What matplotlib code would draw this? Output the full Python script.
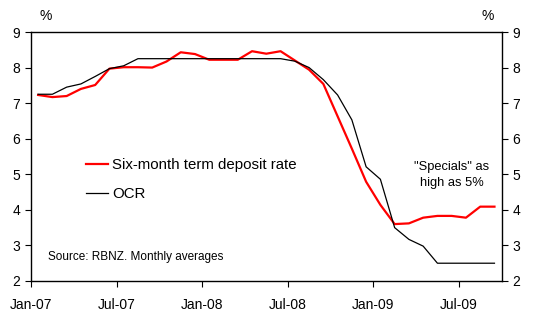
import matplotlib
matplotlib.use("Agg")
import matplotlib.pyplot as plt

plt.rcParams['font.family'] = ['Liberation Sans', 'DejaVu Sans']

months = ["Jan-07","Feb-07","Mar-07","Apr-07","May-07","Jun-07","Jul-07","Aug-07","Sep-07","Oct-07","Nov-07","Dec-07",
          "Jan-08","Feb-08","Mar-08","Apr-08","May-08","Jun-08","Jul-08","Aug-08","Sep-08","Oct-08","Nov-08","Dec-08",
          "Jan-09","Feb-09","Mar-09","Apr-09","May-09","Jun-09","Jul-09","Aug-09","Sep-09"]
term_deposit = [7.23, 7.17, 7.20, 7.40, 7.51, 7.97, 8.01, 8.01, 8.00, 8.17, 8.43, 8.38,
                8.22, 8.22, 8.22, 8.46, 8.39, 8.46, 8.20, 7.94, 7.54, 6.63, 5.72, 4.79,
                4.14, 3.60, 3.62, 3.78, 3.83, 3.83, 3.78, 4.09, 4.09]
ocr = [7.25, 7.25, 7.45, 7.54, 7.75, 7.97, 8.05, 8.25, 8.25, 8.25, 8.25, 8.25,
       8.25, 8.25, 8.25, 8.25, 8.25, 8.25, 8.18, 8.00, 7.66, 7.23, 6.53, 5.21,
       4.86, 3.50, 3.17, 2.98, 2.50, 2.50, 2.50, 2.50, 2.50]
tick_labels = ["Jan-07", "Jul-07", "Jan-08", "Jul-08", "Jan-09", "Jul-09"]
y_ticks = [2, 3, 4, 5, 6, 7, 8, 9]

fig = plt.figure(figsize=(5.42, 3.21), dpi=100)
ax = fig.add_axes([31/542, 40/321, (501.6-31)/542, (281-32)/321])

x = [i + 0.5 for i in range(len(months))]
ax.plot(x, term_deposit, color='#ff0000', lw=1.6, label='Six-month term deposit rate', solid_joinstyle='round')
ax.plot(x, ocr, color='black', lw=0.9, label='OCR')

ax.set_xlim(0, 33)
ax.set_ylim(2, 9)
ax.set_xticks([months.index(t) for t in tick_labels])
ax.set_xticklabels(tick_labels, fontsize=10)
ax.set_yticks(y_ticks)
ax.tick_params(axis='y', left=True, right=True, labelleft=True, labelright=True,
               direction='out', length=4, width=0.8, labelsize=10, pad=4)
ax.tick_params(axis='x', direction='out', length=4, width=0.8, pad=8)
for s in ax.spines.values():
    s.set_linewidth(1.0)

fig.text(46/542, 1 - 16/321, '%', ha='center', va='center', fontsize=10)
fig.text(488/542, 1 - 16/321, '%', ha='center', va='center', fontsize=10)

leg = ax.legend(loc='upper left', bbox_to_anchor=(86/542, 1 - 158/321), bbox_transform=fig.transFigure,
                frameon=False, fontsize=10.8, handlelength=1.45, handletextpad=0.3, labelspacing=1.0,
                borderpad=0, borderaxespad=0)

fig.text(48/542, 1 - 257/321, 'Source: RBNZ. Monthly averages', ha='left', va='center', fontsize=8.5)
fig.text(452/542, 1 - 175/321, '"Specials" as\nhigh as 5%', ha='center', va='center', fontsize=9.3, linespacing=1.4)

fig.savefig('out.png', dpi=100)
